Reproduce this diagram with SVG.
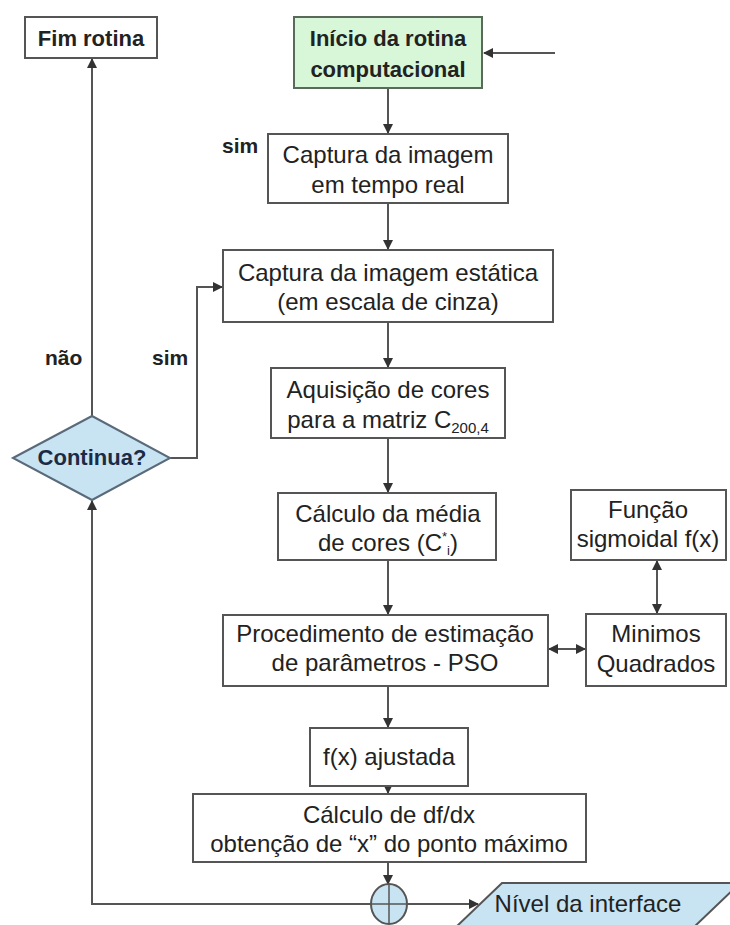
<svg xmlns="http://www.w3.org/2000/svg" width="730" height="925" viewBox="0 0 730 925">
<style>
.box{fill:#fff;stroke:#555;stroke-width:2}
.t{font-family:"Liberation Sans",Arial,sans-serif;font-size:24px;fill:#222;text-anchor:middle}
.b{font-family:"Liberation Sans",Arial,sans-serif;font-size:22px;font-weight:bold;fill:#222;text-anchor:middle}
.lbl{font-family:"Liberation Sans",Arial,sans-serif;font-size:21px;font-weight:bold;fill:#222}
.c{fill:none;stroke:#555;stroke-width:2}
</style>
<defs>
<marker id="ah" viewBox="0 0 10 10" refX="9" refY="5" markerWidth="5" markerHeight="5" orient="auto-start-reverse">
<path d="M0,0 L10,5 L0,10 z" fill="#333"/>
</marker>
</defs>
<rect width="730" height="925" fill="#fff"/>
<g id="connectors">
<path class="c" d="M555,53 L484,53" marker-end="url(#ah)"/>
<path class="c" d="M388,88 L388,133" marker-end="url(#ah)"/>
<path class="c" d="M388,203 L388,249" marker-end="url(#ah)"/>
<path class="c" d="M388,322 L388,367" marker-end="url(#ah)"/>
<path class="c" d="M388,438 L388,492" marker-end="url(#ah)"/>
<path class="c" d="M388,560 L388,614" marker-end="url(#ah)"/>
<path class="c" d="M388,686 L388,727" marker-end="url(#ah)"/>
<path class="c" d="M388,786 L388,793" marker-end="url(#ah)"/>
<path class="c" d="M388,862 L388,884" marker-end="url(#ah)"/>
<path class="c" d="M549,649 L585,649" marker-start="url(#ah)" marker-end="url(#ah)"/>
<path class="c" d="M657,561 L657,613" marker-start="url(#ah)" marker-end="url(#ah)"/>
<path class="c" d="M170,458 L197,458 L197,287 L222,287" marker-end="url(#ah)"/>
<path class="c" d="M92,416 L92,59" marker-end="url(#ah)"/>
<path class="c" d="M371,904 L92,904 L92,501" marker-end="url(#ah)"/>
<path class="c" d="M407,904 L478,904" marker-end="url(#ah)"/>
</g>
<g id="fim">
<rect class="box" x="25" y="17" width="132" height="41"/>
<text class="b" x="91" y="46">Fim rotina</text>
</g>
<g id="inicio">
<rect x="294" y="17" width="188" height="71" fill="#d8f6d8" stroke="#5a6a5a" stroke-width="2"/>
<text class="b" x="388" y="46">Início da rotina</text>
<text class="b" x="388" y="77">computacional</text>
</g>
<g id="captura-real">
<rect class="box" x="268" y="134" width="240" height="69"/>
<text class="t" x="388" y="163">Captura da imagem</text>
<text class="t" x="388" y="193">em tempo real</text>
</g>
<text class="lbl" x="222" y="153">sim</text>
<g id="captura-estatica">
<rect class="box" x="223" y="250" width="330" height="72"/>
<text class="t" x="388" y="281">Captura da imagem estática</text>
<text class="t" x="388" y="310">(em escala de cinza)</text>
</g>
<g id="aquisicao">
<rect class="box" x="271" y="368" width="234" height="70"/>
<text class="t" x="388" y="398">Aquisição de cores</text>
<text class="t" x="388" y="428">para a matriz C<tspan font-size="15" dy="5">200,4</tspan></text>
</g>
<g id="media">
<rect class="box" x="278" y="493" width="218" height="67"/>
<text class="t" x="388" y="522">Cálculo da média</text>
<text class="t" x="388" y="551">de cores (C<tspan font-size="13" dy="-10">*</tspan><tspan font-size="13" dy="14">i</tspan><tspan dy="-4">)</tspan></text>
</g>
<g id="funcao">
<rect class="box" x="571" y="490" width="155" height="70"/>
<text class="t" x="648" y="518">Função</text>
<text class="t" x="648" y="547">sigmoidal f(x)</text>
</g>
<g id="procedimento">
<rect class="box" x="223" y="615" width="325" height="71"/>
<text class="t" x="385" y="642">Procedimento de estimação</text>
<text class="t" x="385" y="671">de parâmetros - PSO</text>
</g>
<g id="minimos">
<rect class="box" x="586" y="614" width="140" height="72"/>
<text class="t" x="656" y="642">Minimos</text>
<text class="t" x="656" y="672">Quadrados</text>
</g>
<g id="fx">
<rect class="box" x="310" y="728" width="158" height="58"/>
<text class="t" x="389" y="765">f(x) ajustada</text>
</g>
<g id="dfdx">
<rect class="box" x="193" y="794" width="393" height="68"/>
<text class="t" x="389" y="823">Cálculo de df/dx</text>
<text class="t" x="389" y="852">obtenção de “x” do ponto máximo</text>
</g>
<g id="continua">
<polygon points="13,458 92,416 170,458 92,500" fill="#c8e4f2" stroke="#5a6a7a" stroke-width="2"/>
<text class="b" x="92" y="465" font-size="21" style="fill:#1c2b45">Continua?</text>
</g>
<text class="lbl" x="45" y="365">não</text>
<text class="lbl" x="152" y="365">sim</text>
<g id="juncao">
<ellipse cx="389" cy="904" rx="18" ry="20" fill="#c8e4f2" stroke="#555" stroke-width="2"/>
<path d="M389,884 L389,924 M371,904 L407,904" stroke="#555" stroke-width="1.5"/>
</g>
<g id="nivel">
<polygon points="502,883 740,883 693,928 455,928" fill="#c8e4f2" stroke="#555" stroke-width="2"/>
<text class="t" x="588" y="912">Nível da interface</text>
</g>
</svg>
